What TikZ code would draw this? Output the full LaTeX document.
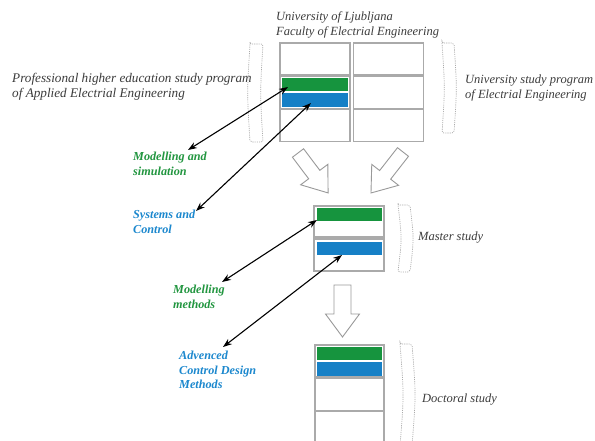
\documentclass[tikz,border=0pt]{standalone}
\usepackage{fontspec}
\setmainfont{Liberation Serif}
\usetikzlibrary{arrows.meta}
\definecolor{barG}{RGB}{22,148,62}
\definecolor{barB}{RGB}{22,128,198}
\definecolor{txtG}{RGB}{34,150,64}
\definecolor{txtB}{RGB}{28,136,206}
\definecolor{boxgray}{RGB}{170,170,170}
\definecolor{lblgray}{RGB}{60,60,60}
\tikzset{
  cell/.style={draw=boxgray, line width=1.3pt, fill=white, inner sep=0pt, outer sep=0pt},
  gbar/.style={fill=barG, inner sep=0pt, outer sep=0pt},
  bbar/.style={fill=barB, inner sep=0pt, outer sep=0pt},
  lbl/.style={text=lblgray, font=\itshape\fontsize{12.5}{15}\selectfont, align=left, inner sep=0pt, anchor=west},
  glbl/.style={text=txtG, font=\bfseries\itshape\fontsize{12.2}{14.5}\selectfont, align=left, inner sep=0pt, anchor=west},
  blbl/.style={text=txtB, font=\bfseries\itshape\fontsize{12.2}{14.5}\selectfont, align=left, inner sep=0pt, anchor=west},
  conn/.style={{Stealth[length=9pt,width=6.5pt]}-{Stealth[length=9pt,width=6.5pt]}, line width=1.1pt, black},
  hollow/.style={draw=boxgray!90!black, line width=0.9pt, fill=white, line join=miter},
  brk/.style={draw=boxgray, line width=0.7pt, dash pattern=on 1.1pt off 1.1pt, rounded corners=2pt}
}
\newcommand{\hollowarrow}[5]{% x y angle length shafthalfwidth
  \begin{scope}[shift={(#1,#2)}, rotate=#3]
    \draw[hollow] (0,-#5) -- ({#4-23},-#5) -- ({#4-23},-17) -- (#4,0) -- ({#4-23},17) -- ({#4-23},#5) -- (0,#5) -- cycle;
  \end{scope}}
\newcommand{\dbracket}[5]{% x1 y1 x2 y2 bulge
  \draw[brk] (#1,#2) -- (#3,#2) .. controls ({#3+2*#5},{(#2+#4)/2}) .. (#3,#4) -- (#1,#4) .. controls ({#1+2*#5},{(#2+#4)/2}) .. (#1,#2) -- cycle;}
\begin{document}
\begin{tikzpicture}[x=1pt, y=-1pt]
\clip (0,0) rectangle (595,441);
\fill[white] (0,0) rectangle (595,441);

% titles and side labels
\node[lbl] (title) at (276,24.5) {University of Ljubljana\\Faculty of Electrial Engineering};
\node[lbl, font=\itshape\fontsize{13.2}{15}\selectfont] (prof) at (12,87) {Professional higher education study program\\of Applied Electrial Engineering};
\node[lbl] (univ) at (465,88) {University study program\\of Electrial Engineering};
\node[lbl] (master) at (418,238) {Master study};
\node[lbl] (doct) at (422,400) {Doctoral study};

% top grid
\node[cell, minimum width=70pt, minimum height=32pt] (t11) at (315,59) {};
\node[cell, minimum width=70pt, minimum height=32pt] (t21) at (315,92.3) {};
\node[cell, minimum width=70pt, minimum height=32pt] (t31) at (315,125.6) {};
\node[cell, minimum width=70pt, minimum height=32pt] (t12) at (388.5,59) {};
\node[cell, minimum width=70pt, minimum height=32pt] (t22) at (388.5,92.3) {};
\node[cell, minimum width=70pt, minimum height=32pt] (t32) at (388.5,125.6) {};
\node[gbar, minimum width=66pt, minimum height=13pt] (tg) at (315,84.5) {};
\node[bbar, minimum width=66pt, minimum height=14pt] (tb) at (315,100) {};

% master block
\node[cell, minimum width=70pt, minimum height=31pt] (m1) at (349,221.5) {};
\node[cell, minimum width=70pt, minimum height=32pt] (m2) at (349,255) {};
\node[gbar, minimum width=65pt, minimum height=13pt] (mg) at (349.5,214.5) {};
\node[bbar, minimum width=65pt, minimum height=13pt] (mb) at (349.5,248.5) {};

% doctoral block
\node[cell, minimum width=69pt, minimum height=32pt] (d1) at (349.5,361) {};
\node[cell, minimum width=69pt, minimum height=32pt] (d2) at (349.5,394.3) {};
\node[cell, minimum width=69pt, minimum height=32pt] (d3) at (349.5,427.6) {};
\node[gbar, minimum width=65pt, minimum height=13pt] (dg) at (349.5,353.5) {};
\node[bbar, minimum width=65pt, minimum height=14pt] (db) at (349.5,369) {};

% dashed brackets
\dbracket{250}{44}{263}{142}{-1.5}
\dbracket{442}{43}{454}{133}{1.5}
\dbracket{398}{205}{410}{272}{2}
\dbracket{400}{344}{412}{446}{2}

% hollow arrows
\hollowarrow{298}{153}{-53}{50}{7}
\hollowarrow{403}{152}{-128}{52}{7}
\hollowarrow{342.5}{285}{-90}{52}{8.5}

% coloured labels
\node[glbl] (ms) at (133,164) {Modelling and\\simulation};
\node[blbl] (sc) at (133,222) {Systems and\\Control};
\node[glbl] (mm) at (173,297) {Modelling\\methods};
\node[blbl] (acd) at (179,370) {Advenced\\Control Design\\Methods};

% connector end points
\coordinate (p1a) at (288,87);  \coordinate (p1b) at (188,150);
\coordinate (p2a) at (311,103); \coordinate (p2b) at (196,211);
\coordinate (p3a) at (317,220); \coordinate (p3b) at (222,282);
\coordinate (p4a) at (342,255); \coordinate (p4b) at (223,347);
\draw[conn] (p1b) -- (p1a);
\draw[conn] (p2b) -- (p2a);
\draw[conn] (p3b) -- (p3a);
\draw[conn] (p4b) -- (p4a);
\end{tikzpicture}
\end{document}
